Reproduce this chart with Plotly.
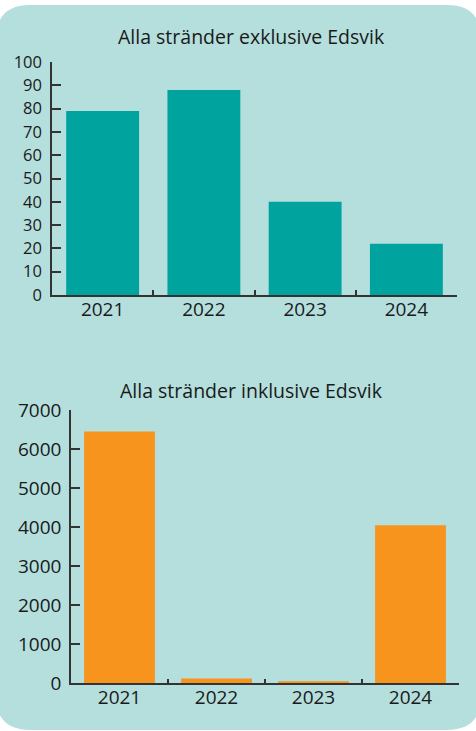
import plotly.graph_objects as go

W, H = 476, 731

years = ["2021", "2022", "2023", "2024"]
excl_values = [79, 88, 40, 22]
incl_values = [6450, 120, 50, 4050]
title_excl = "Alla stränder exklusive Edsvik"
title_incl = "Alla stränder inklusive Edsvik"
y1_ticks = [0, 10, 20, 30, 40, 50, 60, 70, 80, 90, 100]
y2_ticks = [0, 1000, 2000, 3000, 4000, 5000, 6000, 7000]

TEAL = "#00a39e"
ORANGE = "#f7941e"
BG = "#b4dfdd"
TXT = "#1a1a1a"
AX = "#333333"
FONT = "Open Sans"


def px(x):
    return x / W


def py(y):
    return 1 - y / H


fig = go.Figure()
fig.add_trace(go.Bar(x=years, y=excl_values, marker=dict(color=TEAL, line=dict(width=0)),
                     width=0.72, xaxis="x", yaxis="y", hoverinfo="x+y"))
fig.add_trace(go.Bar(x=years, y=incl_values, marker=dict(color=ORANGE, line=dict(width=0)),
                     width=0.73, xaxis="x2", yaxis="y2", hoverinfo="x+y"))

# rounded background panel
x0, x1, y0, y1, r = -4, 481, 5, 730, 34
path = (
    f"M {px(x0 + r)} {py(y0)} L {px(x1 - r)} {py(y0)} "
    f"Q {px(x1)} {py(y0)} {px(x1)} {py(y0 + r)} "
    f"L {px(x1)} {py(y1 - r)} Q {px(x1)} {py(y1)} {px(x1 - r)} {py(y1)} "
    f"L {px(x0 + r)} {py(y1)} Q {px(x0)} {py(y1)} {px(x0)} {py(y1 - r)} "
    f"L {px(x0)} {py(y0 + r)} Q {px(x0)} {py(y0)} {px(x0 + r)} {py(y0)} Z"
)

xcommon = dict(type="category", showline=True, linecolor=AX, linewidth=1.5,
               ticks="inside", tickson="boundaries", ticklen=5, tickwidth=1.5,
               tickcolor=AX, showgrid=False, zeroline=False, automargin=False,
               ticklabelstandoff=-4,
               tickfont=dict(family=FONT, size=19, color=TXT))
ycommon = dict(showline=True, linecolor=AX, linewidth=1.5, ticks="inside",
               ticklen=9, tickwidth=1.5, tickcolor=AX, showgrid=False,
               zeroline=False, automargin=False)

fig.update_layout(
    width=W, height=H,
    margin=dict(l=0, r=0, t=0, b=0),
    paper_bgcolor="white", plot_bgcolor="rgba(0,0,0,0)",
    showlegend=False,
    font=dict(family=FONT, color=TXT),
    xaxis=dict(domain=[px(52), px(457)], anchor="y", **xcommon),
    yaxis=dict(domain=[py(295), py(62)], anchor="x", range=[0, 100],
               tickvals=y1_ticks, ticklabelstandoff=5,
               tickfont=dict(family=FONT, size=16.5, color=TXT), **ycommon),
    xaxis2=dict(domain=[px(71), px(459)], anchor="y2", **xcommon),
    yaxis2=dict(domain=[py(683.3), py(410)], anchor="x2", range=[0, 7000],
                tickvals=y2_ticks, ticklabelstandoff=4,
                tickfont=dict(family=FONT, size=19, color=TXT), **ycommon),
    shapes=[dict(type="path", path=path, xref="paper", yref="paper",
                 fillcolor=BG, line=dict(width=0), layer="below")],
    annotations=[
        dict(text=title_excl, x=px(251), y=py(37), xref="paper", yref="paper",
             showarrow=False, xanchor="center", yanchor="middle",
             font=dict(family=FONT, size=19.5, color=TXT)),
        dict(text=title_incl, x=px(251), y=py(390), xref="paper", yref="paper",
             showarrow=False, xanchor="center", yanchor="middle",
             font=dict(family=FONT, size=19.5, color=TXT)),
    ],
)

fig.write_html("out.html", config={"displayModeBar": False},
               post_script="document.body.style.margin='0';")
